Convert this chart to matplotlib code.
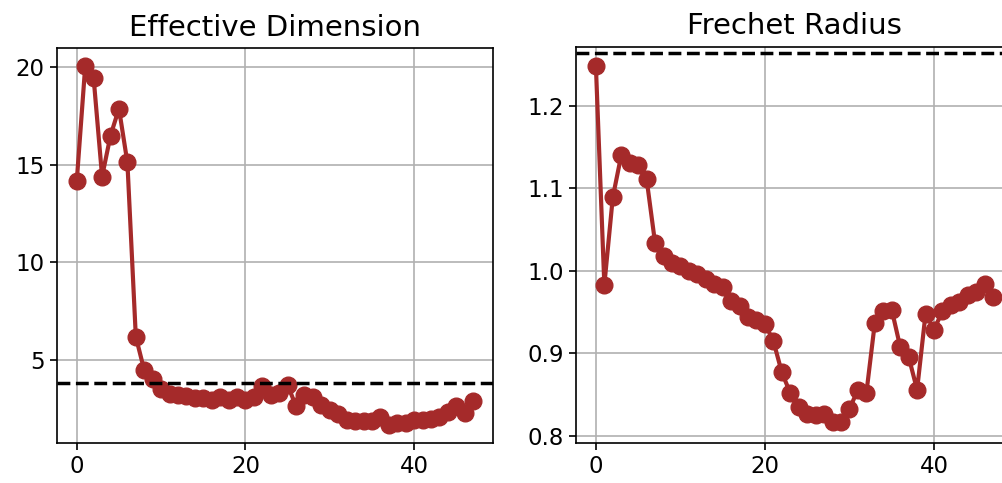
import numpy as np
import matplotlib
matplotlib.use("Agg")
import matplotlib.pyplot as plt

# values
eff_dim = [14.18, 20.05, 19.42, 14.39, 16.49, 17.87, 15.11, 6.19, 4.47, 4.04,
           3.51, 3.26, 3.22, 3.14, 3.03, 3.03, 2.97, 3.10, 2.97, 3.10,
           2.97, 3.08, 3.65, 3.22, 3.31, 3.73, 2.62, 3.22, 3.10, 2.71,
           2.42, 2.25, 1.94, 1.86, 1.86, 1.90, 2.10, 1.69, 1.77, 1.77,
           1.94, 1.94, 1.98, 2.10, 2.32, 2.62, 2.29, 2.92]
eff_dim_ref = 3.82

frechet = [1.248, 0.983, 1.089, 1.140, 1.131, 1.128, 1.111, 1.034, 1.018, 1.010,
           1.006, 1.000, 0.996, 0.990, 0.984, 0.980, 0.964, 0.958, 0.944, 0.940,
           0.936, 0.915, 0.877, 0.852, 0.835, 0.827, 0.826, 0.827, 0.817, 0.817,
           0.833, 0.856, 0.852, 0.937, 0.951, 0.953, 0.908, 0.896, 0.856, 0.948,
           0.929, 0.951, 0.959, 0.962, 0.971, 0.974, 0.984, 0.968]
frechet_ref = 1.2639

titles = ["Effective Dimension", "Frechet Radius"]

plt.rcParams.update({
    "font.size": 16.5,
    "axes.linewidth": 1.2,
    "xtick.major.width": 1.2,
    "ytick.major.width": 1.2,
    "xtick.major.size": 5.25,
    "ytick.major.size": 5.25,
})

fig = plt.figure(figsize=(10.03, 4.83), dpi=100)
ax1 = fig.add_axes([0.0568, 0.0828, 0.4347, 0.8178])
ax2 = fig.add_axes([0.5743, 0.0828, 0.4357, 0.8199])

series = [eff_dim, frechet]
refs = [eff_dim_ref, frechet_ref]
ylims = [(0.75, 20.97), (0.7916, 1.271)]

for ax, vals, ref, title, yl in zip([ax1, ax2], series, refs, titles, ylims):
    x = np.arange(len(vals))
    ax.plot(x, vals, "-o", color="brown", lw=3, markersize=12)
    ax.axhline(ref, color="black", ls="--", lw=2.5)
    ax.set_title(title, fontsize=21, pad=9)
    ax.grid(True, color="#b0b0b0", lw=1.2)
    ax.set_xlim(-2.35, 49.35)
    ax.set_ylim(*yl)
    ax.set_xticks([0, 20, 40])

ax1.set_yticks([5, 10, 15, 20])
ax2.set_yticks([0.8, 0.9, 1.0, 1.1, 1.2])

fig.savefig("out.png", dpi=100)
